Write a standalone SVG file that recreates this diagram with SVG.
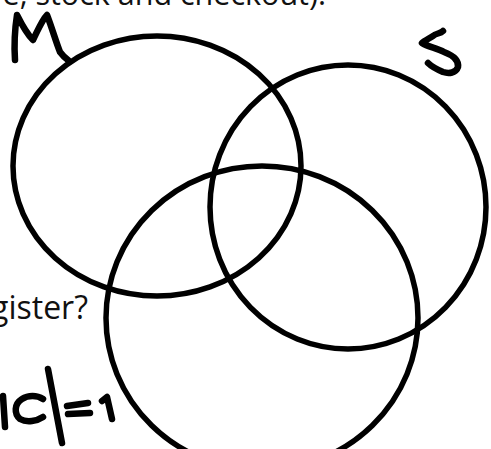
<svg xmlns="http://www.w3.org/2000/svg" width="491" height="449" viewBox="0 0 491 449">
<style>
.c{fill:none;stroke:#000;stroke-width:5.5}
.h{fill:none;stroke:#000;stroke-width:6.5;stroke-linecap:round;stroke-linejoin:round}
.t{font-family:"Open Sans","Noto Sans",sans-serif;font-size:32px;fill:#111}
</style>
<rect width="491" height="449" fill="#fff"/>
<text class="t" x="326" y="5" text-anchor="end" style="font-size:30.5px">e, stock and checkout).</text>
<text class="t" x="88" y="319" text-anchor="end">gister?</text>
<g id="circles">
<ellipse id="M-set" class="c" cx="157" cy="166" rx="144" ry="130"/>
<ellipse id="S-set" class="c" cx="348" cy="207" rx="138" ry="142"/>
<ellipse id="C-set" class="c" cx="262" cy="318" rx="156" ry="152"/>
</g>
<g id="label-M"><path class="h" d="M15,60 C14,45 15,28 17,15 C22,25 28,35 33,40 C38,30 42,20 47,15 C52,28 56,42 60,52 C63,56 65,58 68,60"/></g>
<g id="label-S"><path class="h" d="M443,31 C440,34 436,33 433,36 C428,39 424,41 422,43 C428,47 437,48 444,52 C452,55 459,60 458,67 C456,73 449,74 443,72 C436,69 431,66 428,63"/></g>
<g id="label-C"><path class="h" d="M3,396 L5,427"/><path class="h" d="M43,399 C37,395 28,395 22,399 C14,404 14,414 20,419 C27,423 37,421 43,417"/><path class="h" d="M48,369 L62,443"/><path class="h" d="M67,406 L88,403"/><path class="h" d="M68,414 L90,413"/><path class="h" d="M102,401 L107,397 L112,419"/></g>
</svg>
